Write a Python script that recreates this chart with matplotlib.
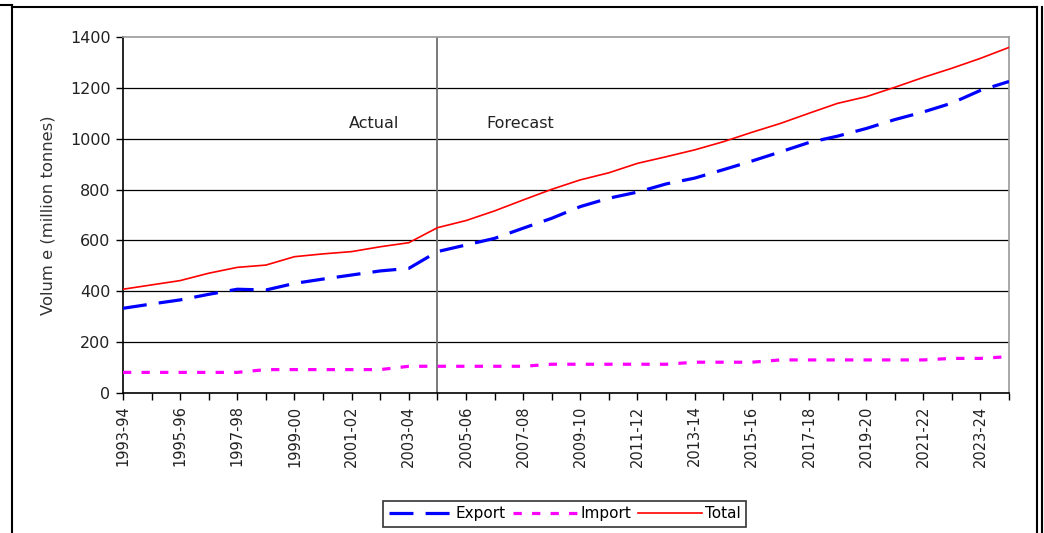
import matplotlib
matplotlib.use("Agg")
import matplotlib.pyplot as plt
from matplotlib.lines import Line2D

# Financial years on the category axis
years = ["1993-94", "1994-95", "1995-96", "1996-97", "1997-98", "1998-99",
         "1999-00", "2000-01", "2001-02", "2002-03", "2003-04", "2004-05",
         "2005-06", "2006-07", "2007-08", "2008-09", "2009-10", "2010-11",
         "2011-12", "2012-13", "2013-14", "2014-15", "2015-16", "2016-17",
         "2017-18", "2018-19", "2019-20", "2020-21", "2021-22", "2022-23",
         "2023-24", "2024-25"]

# Volumes in million tonnes
export = [333, 350, 366, 388, 408, 405, 431, 448, 464, 480, 490, 556,
          582, 608, 648, 687, 733, 766, 790, 822, 845, 878, 912, 948,
          985, 1010, 1040, 1075, 1105, 1140, 1190, 1225]
imports = [81, 81, 81, 81, 81, 92, 92, 92, 92, 92, 105, 105,
           105, 105, 105, 113, 113, 113, 113, 113, 121, 121, 121, 130,
           130, 130, 130, 130, 130, 136, 136, 143]
total = [408, 425, 442, 471, 494, 503, 536, 547, 556, 575, 591, 650,
         678, 716, 759, 801, 838, 866, 903, 929, 956, 988, 1025, 1060,
         1100, 1139, 1165, 1202, 1241, 1277, 1316, 1359]

forecast_start = "2004-05"

fig = plt.figure(figsize=(10.44, 5.33), dpi=100)
ax = fig.add_axes([0.1178, 0.2627, 0.8487, 0.6679])

x = list(range(len(years)))

for v in range(200, 1400, 200):
    ax.axhline(v, color="black", lw=0.9, zorder=1)

ax.axvline(years.index(forecast_start), color="#707070", lw=1.3, zorder=2)

l_exp, = ax.plot(x, export, color="#0000ff", lw=2.3, dashes=(7.5, 3.8),
                 label="Export", zorder=3)
l_imp, = ax.plot(x, imports, color="#ff00ff", lw=2.3, dashes=(2.6, 3.2),
                 label="Import", zorder=3)
l_tot, = ax.plot(x, total, color="#ff0000", lw=1.2, label="Total", zorder=4)

ax.set_xlim(0, len(years) - 1)
ax.set_ylim(0, 1400)
ax.set_yticks(range(0, 1401, 200))
ax.set_xticks(x)
ax.set_xticklabels([y if i % 2 == 0 else "" for i, y in enumerate(years)],
                   rotation=90)

ax.tick_params(axis="both", direction="out", length=5, width=1,
               color="black", labelcolor="#222222")
ax.tick_params(axis="x", pad=4, labelsize=10.5)
ax.tick_params(axis="y", pad=4, labelsize=11.5)

for side in ("left", "bottom"):
    ax.spines[side].set_color("black")
    ax.spines[side].set_linewidth(1.2)
for side in ("top", "right"):
    ax.spines[side].set_color("#9a9a9a")
    ax.spines[side].set_linewidth(1.2)

ax.set_ylabel("Volum e (million tonnes)", fontsize=11.8, color="#333333",
              labelpad=10)

ax.text(8.8, 1060, "Actual", fontsize=11.5, color="#222222",
        ha="center", va="center")
ax.text(13.9, 1060, "Forecast", fontsize=11.5, color="#222222",
        ha="center", va="center")

leg = fig.legend(handles=[l_exp, l_imp, l_tot], loc="center",
                 bbox_to_anchor=(0.541, 0.036), ncol=3, frameon=True,
                 fancybox=False, edgecolor="black", fontsize=11,
                 handlelength=4.2, handletextpad=0.2, columnspacing=0.45,
                 borderpad=0.35, borderaxespad=0)
leg.get_frame().set_linewidth(1.2)

# Outer chart frame
W, H = 1044.0, 533.0
def fline(x0, y0, x1, y1, lw=1.5, color="black"):
    fig.add_artist(Line2D([x0 / W, x1 / W], [1 - y0 / H, 1 - y1 / H],
                          transform=fig.transFigure, color=color, lw=lw))

fline(0, 5, 12, 5)
fline(12, 5, 12, 533)
fline(12, 7, 1037, 7)
fline(1037, 7, 1037, 533)
fline(1042, 7, 1042, 533)

fig.savefig("out.png", dpi=100, facecolor="white")
